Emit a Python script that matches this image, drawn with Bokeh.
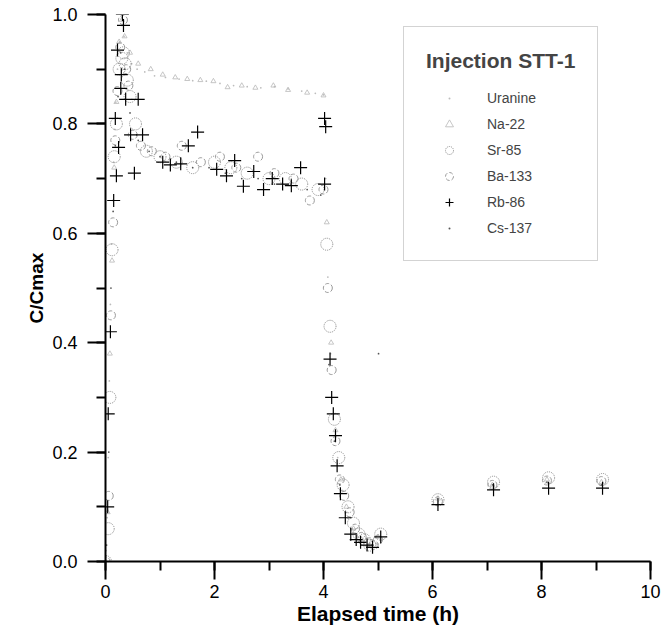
from bokeh.plotting import figure
from bokeh.models import Legend, LegendItem, SingleIntervalTicker, NumeralTickFormatter, Range1d
from bokeh.embed import file_html
from bokeh.resources import INLINE

FONT = "Liberation Sans"

# ---------------- data ----------------
t_ura = [0.01, 0.03, 0.05, 0.07, 0.09, 0.11, 0.13, 0.15, 0.17, 0.19, 0.22, 0.26, 0.30, 0.34,
         0.40, 0.48, 0.58, 0.72, 0.90, 1.10, 1.35, 1.60, 1.85, 2.10, 2.35, 2.60, 2.85, 3.10,
         3.35, 3.60, 3.85, 4.00, 4.04, 4.08, 4.13, 4.19, 4.26, 4.34, 4.43, 4.53, 4.64, 4.76, 4.88]
y_ura = [0.02, 0.08, 0.19, 0.33, 0.47, 0.58, 0.66, 0.73, 0.79, 0.84, 0.90, 0.95, 0.98, 0.96,
         0.93, 0.91, 0.90, 0.895, 0.888, 0.885, 0.882, 0.879, 0.878, 0.874, 0.870, 0.868, 0.866, 0.868,
         0.864, 0.860, 0.856, 0.853, 0.70, 0.52, 0.38, 0.27, 0.19, 0.13, 0.09, 0.06, 0.045, 0.035, 0.03]

t_na = [0.0, 0.04, 0.08, 0.12, 0.16, 0.20, 0.25, 0.30, 0.35, 0.45, 0.60, 0.83, 1.05, 1.28, 1.50,
        1.74, 1.98, 2.24, 2.50, 2.75, 3.08, 3.35, 3.70, 4.00, 4.06, 4.14, 4.22, 4.32, 4.42, 4.55,
        4.70, 4.85, 5.00, 6.10, 7.10, 8.10, 9.10]
y_na = [0.0, 0.09, 0.38, 0.55, 0.72, 0.84, 0.95, 0.99, 0.96, 0.93, 0.91, 0.90, 0.89, 0.885, 0.882,
        0.88, 0.878, 0.867, 0.87, 0.866, 0.87, 0.862, 0.857, 0.852, 0.62, 0.40, 0.24, 0.15, 0.10, 0.06,
        0.04, 0.03, 0.045, 0.115, 0.14, 0.15, 0.145]

t_sr = [0.0, 0.05, 0.08, 0.12, 0.16, 0.20, 0.25, 0.30, 0.33, 0.36, 0.40, 0.45, 0.55, 0.75, 1.00,
        1.30, 1.60, 2.00, 2.30, 2.60, 3.00, 3.30, 3.60, 3.90, 4.06, 4.12, 4.20, 4.28, 4.36, 4.45,
        4.55, 4.65, 4.75, 4.85, 5.05, 6.10, 7.12, 8.13, 9.12]
y_sr = [0.0, 0.06, 0.30, 0.57, 0.74, 0.80, 0.90, 0.92, 0.93, 0.91, 0.88, 0.85, 0.80, 0.75, 0.74,
        0.73, 0.72, 0.73, 0.72, 0.71, 0.70, 0.70, 0.69, 0.68, 0.58, 0.43, 0.26, 0.19, 0.14, 0.10,
        0.07, 0.05, 0.04, 0.03, 0.05, 0.113, 0.145, 0.153, 0.150]

t_ba = [0.0, 0.06, 0.10, 0.14, 0.18, 0.22, 0.27, 0.32, 0.38, 0.42, 0.50, 0.65, 0.85, 1.10, 1.40,
        1.75, 2.10, 2.40, 2.80, 3.10, 3.45, 3.75, 4.00, 4.08, 4.15, 4.22, 4.30, 4.38, 4.48, 4.58,
        4.70, 4.82, 4.92, 5.00, 6.10, 7.10, 8.10, 9.10]
y_ba = [0.0, 0.12, 0.45, 0.62, 0.77, 0.86, 0.94, 0.99, 0.90, 0.87, 0.78, 0.76, 0.75, 0.74, 0.76,
        0.73, 0.74, 0.72, 0.74, 0.71, 0.70, 0.66, 0.68, 0.50, 0.35, 0.22, 0.15, 0.12, 0.09, 0.06,
        0.045, 0.035, 0.03, 0.04, 0.11, 0.14, 0.148, 0.147]

t_rb = [0.0, 0.04, 0.05, 0.09, 0.15, 0.18, 0.20, 0.22, 0.24, 0.28, 0.29, 0.31, 0.33, 0.37, 0.46,
        0.53, 0.60, 0.68, 1.05, 1.19, 1.38, 1.52, 1.69, 2.04, 2.22, 2.37, 2.53, 2.72, 2.90, 3.06,
        3.25, 3.41, 3.58, 4.02, 4.02, 4.04, 4.12, 4.15, 4.18, 4.22, 4.25, 4.31, 4.40, 4.50, 4.60,
        4.68, 4.80, 4.90, 5.05, 6.10, 7.12, 8.13, 9.12]
y_rb = [0.0, 0.10, 0.27, 0.42, 0.66, 0.81, 0.705, 0.935, 0.757, 0.865, 0.89, 1.0, 0.98, 0.845, 0.78,
        0.71, 0.845, 0.78, 0.73, 0.725, 0.727, 0.76, 0.785, 0.717, 0.705, 0.733, 0.686, 0.713, 0.68, 0.70,
        0.69, 0.687, 0.72, 0.69, 0.81, 0.795, 0.37, 0.30, 0.27, 0.23, 0.175, 0.124, 0.08, 0.05, 0.04,
        0.035, 0.03, 0.026, 0.045, 0.104, 0.131, 0.134, 0.134]

t_cs = [0.02, 0.06, 0.10, 0.14, 0.18, 0.23, 0.28, 0.35, 0.45, 0.60, 0.80, 1.00, 1.30, 1.60, 1.90,
        2.20, 2.50, 2.80, 3.10, 3.40, 3.70, 3.95, 4.10, 4.20, 4.30, 4.45, 4.60, 4.80, 5.01, 6.10,
        7.10, 8.10, 9.10]
y_cs = [0.03, 0.20, 0.50, 0.64, 0.76, 0.85, 0.93, 0.90, 0.82, 0.77, 0.75, 0.74, 0.73, 0.72, 0.72,
        0.71, 0.70, 0.70, 0.69, 0.69, 0.68, 0.67, 0.36, 0.22, 0.14, 0.08, 0.05, 0.035, 0.38, 0.11,
        0.14, 0.145, 0.14]

x_label = "Elapsed time (h)"
y_label = "C/Cmax"
legend_title = "Injection STT-1"

# ---------------- figure ----------------
p = figure(width=672, height=634, output_backend="svg", toolbar_location=None,
           x_range=Range1d(0, 10), y_range=Range1d(0, 1.0),
           min_border_left=105, min_border_right=22, min_border_top=14, min_border_bottom=73)
p.outline_line_color = None
p.grid.visible = False

r_ura = p.scatter(t_ura, y_ura, marker="dot", size=7, color="#bcbcbc")
r_na = p.scatter(t_na, y_na, marker="triangle", size=5, fill_color=None,
                 line_color="#b8b8b8", line_width=0.8)
r_sr = p.scatter(t_sr, y_sr, marker="circle", size=12, fill_color=None,
                 line_color="#8a8a8a", line_width=1, line_dash="1 1")
r_ba = p.scatter(t_ba, y_ba, marker="circle", size=9, fill_color=None,
                 line_color="#9a9a9a", line_width=1, line_dash="4 2")
r_rb = p.scatter(t_rb, y_rb, marker="cross", size=13, line_color="black", line_width=1.2)
r_cs = p.scatter(t_cs, y_cs, marker="dot", size=7, color="#555555")

for ax in (p.xaxis[0], p.yaxis[0]):
    ax.axis_line_width = 2
    ax.major_tick_line_width = 2
    ax.minor_tick_line_width = 2
    ax.major_tick_in = 0
    ax.major_tick_out = 18
    ax.minor_tick_in = 0
    ax.minor_tick_out = 9
    ax.major_label_text_font = FONT
    ax.major_label_text_font_size = "18px"
    ax.major_label_text_color = "black"
    ax.axis_label_text_font = FONT
    ax.axis_label_text_font_style = "bold"
    ax.axis_label_text_color = "black"

p.xaxis.axis_label_text_font_size = "21px"
p.yaxis.axis_label_text_font_size = "19px"
p.xaxis.ticker = SingleIntervalTicker(interval=2, num_minor_ticks=2)
p.yaxis.ticker = SingleIntervalTicker(interval=0.2, num_minor_ticks=2)
p.yaxis.formatter = NumeralTickFormatter(format="0.0")
p.xaxis.axis_label = x_label
p.yaxis.axis_label = y_label
p.xaxis.major_label_standoff = 5
p.xaxis.axis_label_standoff = 1
p.yaxis.major_label_standoff = 10
p.yaxis.axis_label_standoff = 2

legend = Legend(
    items=[LegendItem(label="Uranine", renderers=[r_ura]),
           LegendItem(label="Na-22", renderers=[r_na]),
           LegendItem(label="Sr-85", renderers=[r_sr]),
           LegendItem(label="Ba-133", renderers=[r_ba]),
           LegendItem(label="Rb-86", renderers=[r_rb]),
           LegendItem(label="Cs-137", renderers=[r_cs])],
    location=(298, 300), title=legend_title,
    title_text_font=FONT, title_text_font_size="21px", title_text_font_style="bold",
    label_text_font=FONT, label_text_font_size="14px",
    padding=22, spacing=6, glyph_width=46, glyph_height=20, label_height=20,
    label_width=81, label_standoff=15, title_standoff=15, margin=0,
    border_line_color="#a8a8a8", border_line_width=1,
)
p.add_layout(legend, "center")

open("out.html", "w").write(file_html(p, INLINE))
